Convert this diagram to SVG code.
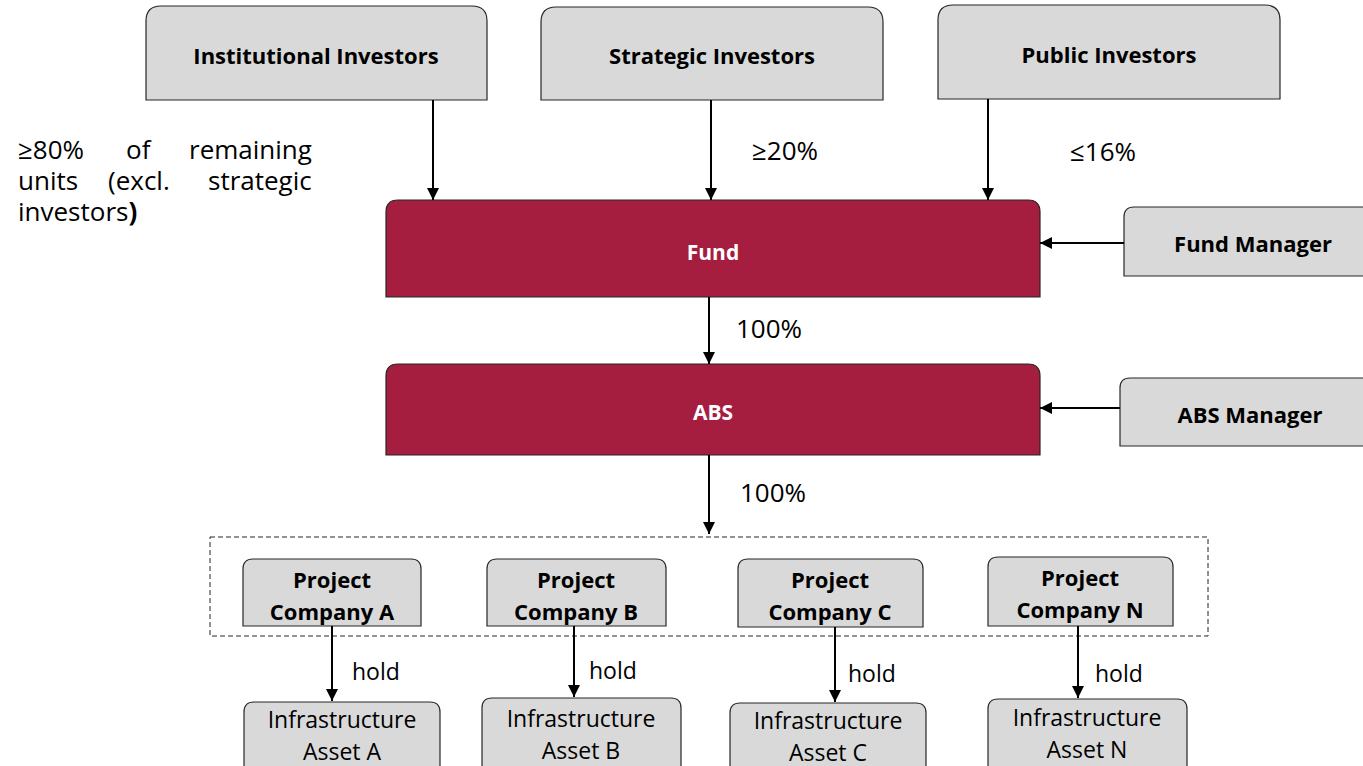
<svg xmlns="http://www.w3.org/2000/svg" width="1363" height="766" viewBox="0 0 1363 766">
  <style>
    .box { fill: #d9d9d9; stroke: #262626; stroke-width: 1.2; }
    .red { fill: #a51e40; stroke: #262626; stroke-width: 1.2; }
    .lbl { font-family: "Open Sans", "Liberation Sans", sans-serif; font-weight: bold; font-size: 22px; fill: #000; text-anchor: middle; }
    .wlbl { font-family: "Open Sans", "Liberation Sans", sans-serif; font-weight: bold; font-size: 21px; fill: #fff; text-anchor: middle; }
    .reg { font-family: "Open Sans", "Liberation Sans", sans-serif; font-size: 23px; fill: #000; }
    .para { font-family: "Open Sans", "Liberation Sans", sans-serif; font-size: 26px; fill: #000; }
    .regm { font-family: "Open Sans", "Liberation Sans", sans-serif; font-size: 23px; fill: #000; text-anchor: middle; }
    .conn { stroke: #000; stroke-width: 2; fill: none; marker-end: url(#arr); }
  </style>
  <defs>
    <marker id="arr" viewBox="0 0 10 10" refX="10" refY="5" markerWidth="13" markerHeight="12" markerUnits="userSpaceOnUse" orient="auto">
      <path d="M0,0 L10,5 L0,10 z" fill="#000"/>
    </marker>
  </defs>
  <rect width="1363" height="766" fill="#fff"/>

  <!-- investor boxes: top corners rounded -->
  <g id="institutional">
    <path class="box" d="M146,100 V21 Q146,6 161,6 H472 Q487,6 487,21 V100 Z"/>
    <text class="lbl" x="316" y="64">Institutional Investors</text>
  </g>
  <g id="strategic">
    <path class="box" d="M541,100 V22 Q541,7 556,7 H868 Q883,7 883,22 V100 Z"/>
    <text class="lbl" x="712" y="64">Strategic Investors</text>
  </g>
  <g id="public">
    <path class="box" d="M938,99 V20 Q938,5 953,5 H1265 Q1280,5 1280,20 V99 Z"/>
    <text class="lbl" x="1109" y="63">Public Investors</text>
  </g>

  <g id="fund">
    <path class="red" d="M386,297 V212 Q386,200 398,200 H1028 Q1040,200 1040,212 V297 Z"/>
    <text class="wlbl" x="713" y="260">Fund</text>
  </g>
  <g id="abs">
    <path class="red" d="M386,455 V376 Q386,364 398,364 H1028 Q1040,364 1040,376 V455 Z"/>
    <text class="wlbl" x="713" y="420">ABS</text>
  </g>

  <g id="fund-manager">
    <path class="box" d="M1124,276 V217 Q1124,207 1134,207 H1370 V276 Z"/>
    <text class="lbl" x="1253" y="252">Fund Manager</text>
  </g>
  <g id="abs-manager">
    <path class="box" d="M1120,446 V388 Q1120,378 1130,378 H1370 V446 Z"/>
    <text class="lbl" x="1250" y="423">ABS Manager</text>
  </g>

  <!-- project company group outline -->
  <rect id="spv-group" x="210" y="537" width="998" height="99" fill="none" stroke="#262626" stroke-width="1" stroke-dasharray="5,3"/>

  <g id="pc-a">
    <path class="box" d="M243,626 V569 Q243,559 253,559 H411 Q421,559 421,569 V626 Z"/>
    <text class="lbl" x="332" y="588">Project</text>
    <text class="lbl" x="332" y="620">Company A</text>
  </g>
  <g id="pc-b">
    <path class="box" d="M487,626 V569 Q487,559 497,559 H656 Q666,559 666,569 V626 Z"/>
    <text class="lbl" x="576" y="588">Project</text>
    <text class="lbl" x="576" y="620">Company B</text>
  </g>
  <g id="pc-c">
    <path class="box" d="M738,627 V569 Q738,559 748,559 H913 Q923,559 923,569 V627 Z"/>
    <text class="lbl" x="830" y="588">Project</text>
    <text class="lbl" x="830" y="620">Company C</text>
  </g>
  <g id="pc-n">
    <path class="box" d="M988,626 V567 Q988,557 998,557 H1163 Q1173,557 1173,567 V626 Z"/>
    <text class="lbl" x="1080" y="586">Project</text>
    <text class="lbl" x="1080" y="618">Company N</text>
  </g>

  <g id="asset-a">
    <path class="box" d="M244,775 V712 Q244,702 254,702 H430 Q440,702 440,712 V775 Z"/>
    <text class="regm" x="342" y="728">Infrastructure</text>
    <text class="regm" x="342" y="760">Asset A</text>
  </g>
  <g id="asset-b">
    <path class="box" d="M482,775 V708 Q482,698 492,698 H671 Q681,698 681,708 V775 Z"/>
    <text class="regm" x="581" y="727">Infrastructure</text>
    <text class="regm" x="581" y="759">Asset B</text>
  </g>
  <g id="asset-c">
    <path class="box" d="M730,775 V713 Q730,703 740,703 H916 Q926,703 926,713 V775 Z"/>
    <text class="regm" x="828" y="729">Infrastructure</text>
    <text class="regm" x="828" y="761">Asset C</text>
  </g>
  <g id="asset-n">
    <path class="box" d="M988,775 V709 Q988,699 998,699 H1177 Q1187,699 1187,709 V775 Z"/>
    <text class="regm" x="1087" y="726">Infrastructure</text>
    <text class="regm" x="1087" y="758">Asset N</text>
  </g>

  <!-- connectors -->
  <g id="connectors">
    <line class="conn" x1="433" y1="100" x2="433" y2="200"/>
    <line class="conn" x1="711" y1="100" x2="711" y2="200"/>
    <line class="conn" x1="988" y1="99" x2="988" y2="200"/>
    <line class="conn" x1="709" y1="297" x2="709" y2="364"/>
    <line class="conn" x1="709" y1="455" x2="709" y2="534"/>
    <line class="conn" x1="1124" y1="243" x2="1040" y2="243"/>
    <line class="conn" x1="1120" y1="408" x2="1040" y2="408"/>
    <line class="conn" x1="332" y1="626" x2="332" y2="701"/>
    <line class="conn" x1="574" y1="626" x2="574" y2="697"/>
    <line class="conn" x1="835" y1="627" x2="835" y2="702"/>
    <line class="conn" x1="1078" y1="626" x2="1078" y2="698"/>
  </g>

  <!-- connector labels -->
  <g id="labels">
    <!-- justified three-line note, words placed by hand -->
    <text class="para"><tspan x="18" y="159">≥80%</tspan><tspan x="126" y="159">of</tspan><tspan x="189" y="159">remaining</tspan><tspan x="18" y="190">units</tspan><tspan x="108" y="190">(excl.</tspan><tspan x="208" y="190">strategic</tspan><tspan x="18" y="221">investors</tspan><tspan font-weight="bold">)</tspan></text>
    <text class="para" x="752" y="160">≥20%</text>
    <text class="para" x="1070" y="161">≤16%</text>
    <text class="para" x="736" y="338">100%</text>
    <text class="para" x="740" y="502">100%</text>
    <text class="reg" x="352" y="680">hold</text>
    <text class="reg" x="589" y="679">hold</text>
    <text class="reg" x="848" y="682">hold</text>
    <text class="reg" x="1095" y="682">hold</text>
  </g>
</svg>
